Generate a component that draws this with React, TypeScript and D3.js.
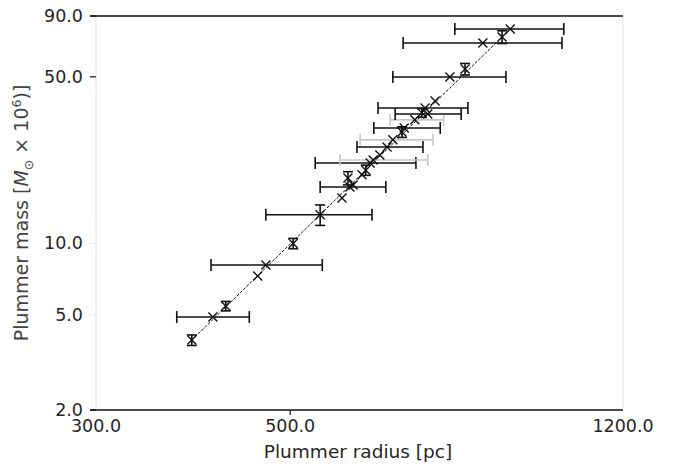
import React from "react";
import * as d3 from "d3";

// Plummer radius [pc]
const radius = [386, 408, 422, 459, 469, 504, 541, 573, 585, 582, 590, 604, 610, 617, 622, 633, 645, 655, 671, 675, 694, 707, 713, 718, 732, 761, 792, 830, 873, 892];
// Plummer mass [1e6 Msun]
const mass = [3.93, 4.91, 5.46, 7.3, 8.12, 10.0, 13.2, 15.5, 17.25, 18.8, 17.6, 19.4, 20.3, 21.75, 22.4, 23.5, 25.4, 27.2, 29.35, 30.5, 33.0, 35.3, 37.0, 34.9, 39.6, 49.9, 53.9, 69.3, 73.5, 79.4];
// radius error range (null = none)
const radiusLo: (number | null)[] = [null, 371, null, null, 406, null, 469, null, 541, null, null, null, null, 534, 570, null, 596, 601, null, 623, 650, null, 630, 659, null, 655, null, 673, null, 771];
const radiusHi: (number | null)[] = [null, 449, null, null, 544, null, 620, null, 643, null, null, null, null, 696, 718, null, 709, 728, null, 742, 749, null, 798, 784, null, 882, null, 1022, null, 1027];
// which radius error bars are faint
const radiusErrFaint = [false, false, false, false, false, false, false, false, false, false, false, false, false, false, true, false, false, true, false, false, true, false, false, false, false, false, false, false, false, false];
// mass error (symmetric, 0 = none)
const massErr = [0.2, 0, 0.25, 0, 0, 0.5, 1.3, 0, 0, 1.2, 0, 0, 1.0, 0, 0, 0, 0, 0, 1.5, 0, 0, 1.5, 0, 0, 0, 0, 3, 0, 4.5, 0];

// fit line endpoints
const fitRadius = [386, 892];
const fitMass = [3.93, 79.4];

const xTicks = [300, 500, 1200];
const yTicks = [2, 5, 10, 50, 90];

const W = 687, H = 466;
const left = 96, right = 623, top = 16, bottom = 410;

export default function App() {
  const x = d3.scaleLog().domain([300, 1200]).range([left, right]);
  const y = d3.scaleLog().domain([2, 90]).range([bottom, top]);
  const line = d3.line<[number, number]>().x(d => x(d[0])).y(d => y(d[1]));
  const fitPts: [number, number][] = fitRadius.map((r, i) => [r, fitMass[i]]);
  const font = "'DejaVu Sans', sans-serif";
  const txt = "#262626";
  const blackTicks = new Set([2, 50, 90]);

  return (
    <svg width={W} height={H} style={{ position: "absolute", left: 0, top: 0, background: "#fff" }}>
      <rect x={0} y={0} width={W} height={H} fill="#fff" />
      {/* side spines light */}
      <line x1={left} x2={left} y1={top} y2={bottom} stroke="#ececec" strokeWidth={1.5} />
      <line x1={right} x2={right} y1={top} y2={bottom} stroke="#ececec" strokeWidth={1.5} />

      {/* fit line */}
      <path d={line(fitPts) || ""} fill="none" stroke="#111" strokeWidth={1} strokeDasharray="3,1.5" />

      {/* x error bars */}
      {radius.map((r, i) => {
        const lo = radiusLo[i], hi = radiusHi[i];
        if (lo == null || hi == null) return null;
        const c = radiusErrFaint[i] ? "#c8c8c8" : "#111";
        const yy = y(mass[i]);
        return (
          <g key={"xe" + i} stroke={c} strokeWidth={1.6}>
            <line x1={x(lo)} x2={x(hi)} y1={yy} y2={yy} />
            <line x1={x(lo)} x2={x(lo)} y1={yy - 6} y2={yy + 6} />
            <line x1={x(hi)} x2={x(hi)} y1={yy - 6} y2={yy + 6} />
          </g>
        );
      })}

      {/* y error bars */}
      {radius.map((r, i) => {
        const e = massErr[i];
        if (!e) return null;
        const xx = x(r);
        const y1 = y(mass[i] + e), y2 = y(mass[i] - e);
        return (
          <g key={"ye" + i} stroke="#111" strokeWidth={1.6}>
            <line x1={xx} x2={xx} y1={y1} y2={y2} />
            <line x1={xx - 5} x2={xx + 5} y1={y1} y2={y1} />
            <line x1={xx - 5} x2={xx + 5} y1={y2} y2={y2} />
          </g>
        );
      })}

      {/* markers */}
      {radius.map((r, i) => {
        const xx = x(r), yy = y(mass[i]);
        const s = 4.5;
        return (
          <g key={"m" + i} stroke="#111" strokeWidth={1.4}>
            <line x1={xx - s} x2={xx + s} y1={yy - s} y2={yy + s} />
            <line x1={xx - s} x2={xx + s} y1={yy + s} y2={yy - s} />
          </g>
        );
      })}

      {/* top & bottom spines */}
      <line x1={left - 6} x2={right} y1={top} y2={top} stroke="#111" strokeWidth={1.5} />
      <line x1={left - 6} x2={right} y1={bottom} y2={bottom} stroke="#111" strokeWidth={1.5} />

      {/* y ticks */}
      {yTicks.map(t => (
        <g key={"yt" + t}>
          <line x1={left - 6} x2={left} y1={y(t)} y2={y(t)} stroke={blackTicks.has(t) ? "#111" : "#e6e6e6"} strokeWidth={1.2} />
          <text x={left - 13} y={y(t)} dy="0.33em" textAnchor="end" fontFamily={font} fontSize={17.5} fill={txt}>{t.toFixed(1)}</text>
        </g>
      ))}
      {/* x ticks */}
      {xTicks.map(t => (
        <g key={"xt" + t}>
          {t === 500 ? <line x1={x(t)} x2={x(t)} y1={bottom} y2={bottom + 5} stroke="#111" strokeWidth={1.2} /> : null}
          <text x={x(t)} y={bottom + 22} textAnchor="middle" fontFamily={font} fontSize={17.5} fill={txt}>{t.toFixed(1)}</text>
        </g>
      ))}

      <text x={358} y={bottom + 48} textAnchor="middle" fontFamily={font} fontSize={18.5} fill={txt}>Plummer radius [pc]</text>
      <text transform={`translate(28, ${(top + bottom) / 2}) rotate(-90)`} textAnchor="middle" fontFamily={font} fontSize={19} fill="#444">
        Plummer mass [<tspan fontStyle="italic">M</tspan><tspan fontSize={12.5} dy={5}>⊙</tspan><tspan dy={-5}> × 10</tspan><tspan fontSize={12.5} dy={-7}>6</tspan><tspan dy={7}>)]</tspan>
      </text>
    </svg>
  );
}
